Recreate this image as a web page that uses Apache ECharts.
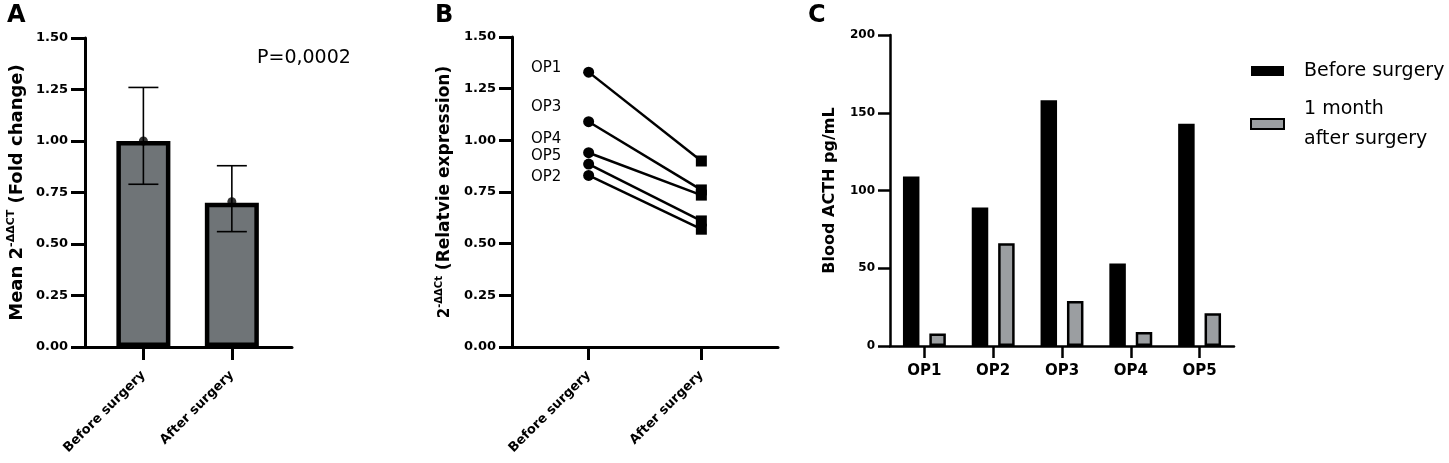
<!DOCTYPE html>
<html>
<head>
<meta charset="utf-8">
<script src="https://cdn.jsdelivr.net/npm/echarts@6/dist/echarts.min.js"></script>
<style>
html,body{margin:0;padding:0;background:#fff;}
#c{width:1449px;height:463px;}
</style>
</head>
<body>
<div id="c"></div>
<script>
// ---- Panel A: mean fold change ----
const groupLabels = ['Before surgery', 'After surgery'];
const meanFold = [1.00, 0.70];
const meanPoint = [1.00, 0.705];
const errLow = [0.79, 0.56];
const errHigh = [1.26, 0.88];
const pValueText = 'P=0,0002';

// ---- Panel B: paired relative expression ----
const patientsB = ['OP1', 'OP3', 'OP4', 'OP5', 'OP2'];
const beforeExpr = [1.33, 1.09, 0.94, 0.885, 0.83];
const afterExpr = [0.90, 0.76, 0.735, 0.61, 0.57];

// ---- Panel C: blood ACTH ----
const patientsC = ['OP1', 'OP2', 'OP3', 'OP4', 'OP5'];
const acthBefore = [109, 89, 158, 53, 143];
const acthAfter = [8, 66, 29, 9, 21];
const seriesNamesC = ['Before surgery', '1 month\nafter surgery'];

const FONT = '"DejaVu Sans", Verdana, sans-serif';
const chart = echarts.init(document.getElementById('c'));

function yAxisCommon(gi, max, interval, fmt, margin, tickLen, fs) {
  return {
    type: 'value', gridIndex: gi, min: 0, max: max, interval: interval,
    axisLine: {show: true, lineStyle: {color: '#000', width: 3}},
    axisTick: {show: true, length: tickLen, lineStyle: {color: '#000', width: 3}},
    axisLabel: {margin: margin, formatter: fmt, color: '#000', fontFamily: FONT, fontWeight: 'bold', fontSize: fs},
    splitLine: {show: false}
  };
}
function xValueAxis(gi, min, max) {
  return {
    type: 'value', gridIndex: gi, min: min, max: max,
    axisLine: {show: true, onZero: false, lineStyle: {color: '#000', width: 3}},
    axisTick: {show: true, length: 13, customValues: [1, 2], lineStyle: {color: '#000', width: 3}},
    axisLabel: {
      customValues: [1, 2], rotate: 45, margin: 26,
      formatter: v => groupLabels[Math.round(v) - 1],
      color: '#000', fontFamily: FONT, fontWeight: 'bold', fontSize: 13
    },
    splitLine: {show: false}
  };
}
function txt(x, y, text, font, align) {
  return {type: 'text', x: x, y: y, style: {text: text, font: font, fill: '#000', textAlign: align || 'left', textVerticalAlign: 'middle'}};
}

const option = {
  animation: false,
  textStyle: {fontFamily: FONT},
  grid: [
    {left: 85, top: 38, width: 207, height: 309},
    {left: 512, top: 37, width: 266, height: 310},
    {left: 890, top: 35, width: 344, height: 311}
  ],
  xAxis: [
    xValueAxis(0, 0.34, 2.68),
    xValueAxis(1, 0.32, 2.68),
    {
      type: 'category', gridIndex: 2, data: patientsC,
      axisLine: {show: true, lineStyle: {color: '#000', width: 2.5}},
      axisTick: {show: true, alignWithLabel: true, length: 12, lineStyle: {color: '#000', width: 2.5}},
      axisLabel: {margin: 18, color: '#000', fontFamily: FONT, fontWeight: 'bold', fontSize: 15}
    }
  ],
  yAxis: [
    Object.assign(yAxisCommon(0, 1.5, 0.25, v => v.toFixed(2), 17, 14, 13), {
      name: '{b|Mean 2}{s|-ΔΔCT}{b| (Fold change)}', nameLocation: 'middle', nameGap: 57,
      nameTextStyle: {color: '#000', rich: {
        b: {fontFamily: FONT, fontWeight: 'bold', fontSize: 18, color: '#000', lineHeight: 22},
        s: {fontFamily: FONT, fontWeight: 'bold', fontSize: 11, color: '#000', verticalAlign: 'top', lineHeight: 22, padding: [0, 0, 10, 0]}
      }}
    }),
    Object.assign(yAxisCommon(1, 1.5, 0.25, v => v.toFixed(2), 16, 13, 13), {
      name: '{t|2}{s|-ΔΔCt}{b| (Relatvie expression)}', nameLocation: 'middle', nameGap: 56,
      nameTextStyle: {color: '#000', rich: {
        t: {fontFamily: FONT, fontWeight: 'bold', fontSize: 15, color: '#000', lineHeight: 22},
        b: {fontFamily: FONT, fontWeight: 'bold', fontSize: 17, color: '#000', lineHeight: 22},
        s: {fontFamily: FONT, fontWeight: 'bold', fontSize: 10, color: '#000', verticalAlign: 'top', lineHeight: 22, padding: [0, 0, 10, 0]}
      }}
    }),
    Object.assign(yAxisCommon(2, 200, 50, v => String(v), 15, 12, 12), {
      name: 'Blood ACTH pg/mL', nameLocation: 'middle', nameGap: 52,
      nameTextStyle: {color: '#000', fontFamily: FONT, fontWeight: 'bold', fontSize: 16},
      axisLine: {show: true, lineStyle: {color: '#000', width: 2.5}},
      axisTick: {show: true, length: 12, lineStyle: {color: '#000', width: 2.5}}
    })
  ],
  legend: {
    left: 1250, top: 56, orient: 'vertical', itemGap: 8, padding: 0,
    itemWidth: 33, itemHeight: 10, icon: 'rect',
    data: seriesNamesC,
    textStyle: {fontFamily: FONT, fontSize: 19, color: '#000', lineHeight: 30, padding: [0, 0, 0, 15]},
    selectedMode: false
  },
  graphic: [
    txt(7, 16, 'A', 'bold 24px ' + FONT),
    txt(435, 16, 'B', 'bold 24px ' + FONT),
    txt(808, 16, 'C', 'bold 24px ' + FONT),
    txt(257, 58, pValueText, '19px ' + FONT),
    txt(531, 68, patientsB[0], '15px ' + FONT),
    txt(531, 107, patientsB[1], '15px ' + FONT),
    txt(531, 139, patientsB[2], '15px ' + FONT),
    txt(531, 156, patientsB[3], '15px ' + FONT),
    txt(531, 177, patientsB[4], '15px ' + FONT)
  ],
  series: [
    {
      type: 'bar', xAxisIndex: 0, yAxisIndex: 0, barWidth: 54, z: 2,
      data: meanFold.map((v, i) => [i + 1, v]),
      itemStyle: {color: '#6f7477', borderColor: '#000', borderWidth: 4.5}
    },
    {
      type: 'custom', xAxisIndex: 0, yAxisIndex: 0, z: 3,
      data: errLow.map((l, i) => [i + 1, l, errHigh[i]]),
      renderItem: function (params, api) {
        const x = api.value(0);
        const lo = api.coord([x, api.value(1)]);
        const hi = api.coord([x, api.value(2)]);
        const half = 15;
        const st = {stroke: '#000', lineWidth: 1.6};
        return {type: 'group', children: [
          {type: 'line', shape: {x1: lo[0], y1: lo[1], x2: hi[0], y2: hi[1]}, style: st},
          {type: 'line', shape: {x1: lo[0] - half, y1: lo[1], x2: lo[0] + half, y2: lo[1]}, style: st},
          {type: 'line', shape: {x1: hi[0] - half, y1: hi[1], x2: hi[0] + half, y2: hi[1]}, style: st}
        ]};
      }
    },
    {
      type: 'scatter', xAxisIndex: 0, yAxisIndex: 0, z: 4, symbol: 'circle', symbolSize: 9,
      data: meanPoint.map((v, i) => [i + 1, v]),
      itemStyle: {color: '#000'}
    }
  ].concat(patientsB.map((p, i) => ({
    type: 'line', name: p, xAxisIndex: 1, yAxisIndex: 1,
    data: [
      {value: [1, beforeExpr[i]], symbol: 'circle', symbolSize: 11},
      {value: [2, afterExpr[i]], symbol: 'rect', symbolSize: 11}
    ],
    lineStyle: {color: '#000', width: 2.5},
    itemStyle: {color: '#000'}
  }))).concat([
    {
      type: 'bar', name: seriesNamesC[0], xAxisIndex: 2, yAxisIndex: 2,
      barWidth: 16.5, barGap: '60%', data: acthBefore,
      itemStyle: {color: '#000', borderColor: '#000', borderWidth: 0}
    },
    {
      type: 'bar', name: seriesNamesC[1], xAxisIndex: 2, yAxisIndex: 2,
      barWidth: 16.5, barGap: '60%', data: acthAfter,
      itemStyle: {color: '#9b9ea1', borderColor: '#000', borderWidth: 2.5}
    }
  ])
};
chart.setOption(option);
</script>
</body>
</html>
